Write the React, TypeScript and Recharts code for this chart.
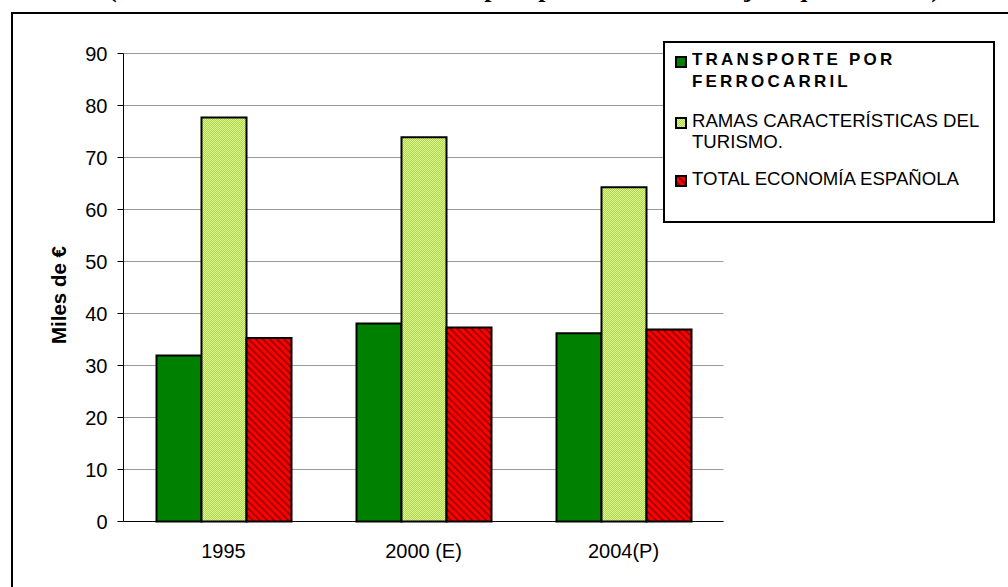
import React from 'react';
import { BarChart, Bar, XAxis, YAxis, CartesianGrid, Legend } from 'recharts';

const categories = ['1995', '2000 (E)', '2004(P)'];
const transporteFerrocarril = [31.9, 38.1, 36.2];
const ramasTurismo = [77.7, 73.9, 64.3];
const totalEconomia = [35.3, 37.3, 36.9];
const yTicks = [0, 10, 20, 30, 40, 50, 60, 70, 80, 90];
const boundaryTicks = [0, 1, 2, 3];
const seriesNames = ['TRANSPORTE POR FERROCARRIL', 'RAMAS CARACTERÍSTICAS DEL TURISMO.', 'TOTAL ECONOMÍA ESPAÑOLA'];
const legendLines = [['TRANSPORTE POR', 'FERROCARRIL'], ['RAMAS CARACTERÍSTICAS DEL', 'TURISMO.'], ['TOTAL ECONOMÍA ESPAÑOLA']];
const titleText = '(Valor añadido bruto medio por puesto de trabajo equivalente)';
const yLabel = 'Miles de €';

const data = categories.map((c, i) => ({
  category: c,
  tren: transporteFerrocarril[i],
  ramas: ramasTurismo[i],
  total: totalEconomia[i],
}));

const SANS = '"Liberation Sans", Arial, sans-serif';
const fills = ['#008000', 'url(#dotGreen)', 'url(#hatchRed)'];
const legendTops = [6, 67, 125];

const LegendBox = () => (
  <div
    style={{
      position: 'relative',
      width: 332,
      height: 182,
      border: '2px solid #000',
      boxSizing: 'border-box',
      background: '#fff',
      fontFamily: SANS,
      color: '#000',
    }}
  >
    {legendLines.map((lines, i) => (
      <div key={i} style={{ position: 'absolute', left: 0, top: legendTops[i], width: 330 }}>
        <svg width={12} height={12} style={{ position: 'absolute', left: 10, top: 7 }}>
          <rect x={1} y={1} width={10} height={10} fill={fills[i]} stroke="#000" strokeWidth={2} />
        </svg>
        <div
          style={{
            position: 'absolute',
            left: 27,
            top: 0,
            lineHeight: i === 0 ? '22px' : '21px',
            whiteSpace: 'nowrap',
            fontWeight: i === 0 ? 'bold' : 'normal',
            fontSize: i === 0 ? 17 : 18.6,
            letterSpacing: i === 0 ? '3.2px' : '0px',
            textAlign: 'left',
          }}
        >
          {lines.map((l, j) => (
            <div key={j}>{l}</div>
          ))}
        </div>
      </div>
    ))}
  </div>
);

export default function App() {
  return (
    <div
      style={{
        position: 'absolute',
        left: 0,
        top: 0,
        width: 1008,
        height: 587,
        overflow: 'hidden',
        background: '#fff',
      }}
    >
      <svg width={1008} height={20} style={{ position: 'absolute', left: 0, top: 0 }}>
        <text
          x={108}
          y={-3}
          textLength={832}
          lengthAdjust="spacing"
          fontFamily='"Liberation Serif", "Times New Roman", serif'
          fontWeight="bold"
          fontSize={26}
          fill="#000"
        >
          {titleText}
        </text>
      </svg>
      <div
        style={{
          position: 'absolute',
          left: 11,
          top: 12,
          width: 1200,
          height: 800,
          border: '2px solid #000',
        }}
      />
      <div style={{ position: 'absolute', left: 0, top: 0 }}>
        <BarChart
          width={1008}
          height={587}
          data={data}
          margin={{ top: 53.5, right: 284.5, bottom: 0, left: 63.5 }}
          barCategoryGap="16.5%"
          barGap={0}
        >
          <defs>
            <pattern id="dotGreen" width={2} height={2} patternUnits="userSpaceOnUse">
              <rect x={0} y={0} width={2} height={2} fill="#acd842" />
              <rect x={0} y={0} width={1} height={1} fill="#e0f49e" />
              <rect x={1} y={1} width={1} height={1} fill="#e0f49e" />
            </pattern>
            <pattern id="hatchRed" width={5} height={5} patternUnits="userSpaceOnUse" patternTransform="rotate(-45)">
              <rect x={0} y={0} width={5} height={5} fill="#ff0000" />
              <rect x={0} y={0} width={2} height={5} fill="#a00000" />
            </pattern>
          </defs>
          <CartesianGrid xAxisId="cat" horizontal vertical={false} stroke="#999" strokeWidth={1} />
          <XAxis
            xAxisId={0}
            type="number"
            domain={[0, 3]}
            ticks={boundaryTicks}
            allowDataOverflow
            height={1}
            axisLine={{ stroke: '#000', strokeWidth: 1 }}
            tickLine={{ stroke: '#000', strokeWidth: 1 }}
            tickSize={7}
            tick={false}
          />
          <XAxis
            xAxisId="cat"
            dataKey="category"
            height={64.5}
            axisLine={false}
            tickLine={false}
            tickSize={0}
            tickMargin={21}
            interval={0}
            tick={{ fill: '#000', fontSize: 20, fontFamily: SANS }}
          />
          <YAxis
            domain={[0, 90]}
            ticks={yTicks}
            interval={0}
            width={60}
            tickSize={6}
            tickMargin={10}
            axisLine={{ stroke: '#000', strokeWidth: 1 }}
            tickLine={{ stroke: '#000', strokeWidth: 1 }}
            tick={{ fill: '#000', fontSize: 20, fontFamily: SANS }}
            label={{
              content: () => (
                <text
                  x={58}
                  y={295}
                  transform="rotate(-90 58 295)"
                  textAnchor="middle"
                  dominantBaseline="central"
                  fontFamily={SANS}
                  fontWeight="bold"
                  fontSize={20.5}
                  fill="#000"
                >
                  {yLabel}
                </text>
              ),
            }}
          />
          <Legend
            layout="vertical"
            align="center"
            verticalAlign="middle"
            content={() => <LegendBox />}
            wrapperStyle={{ position: 'absolute', left: 663, top: 41, width: 332, height: 182 }}
          />
          <Bar xAxisId="cat" dataKey="tren" name={seriesNames[0]} fill={fills[0]} stroke="#000" strokeWidth={2} isAnimationActive={false} />
          <Bar xAxisId="cat" dataKey="ramas" name={seriesNames[1]} fill={fills[1]} stroke="#000" strokeWidth={2} isAnimationActive={false} />
          <Bar xAxisId="cat" dataKey="total" name={seriesNames[2]} fill={fills[2]} stroke="#000" strokeWidth={2} isAnimationActive={false} />
        </BarChart>
      </div>
    </div>
  );
}
